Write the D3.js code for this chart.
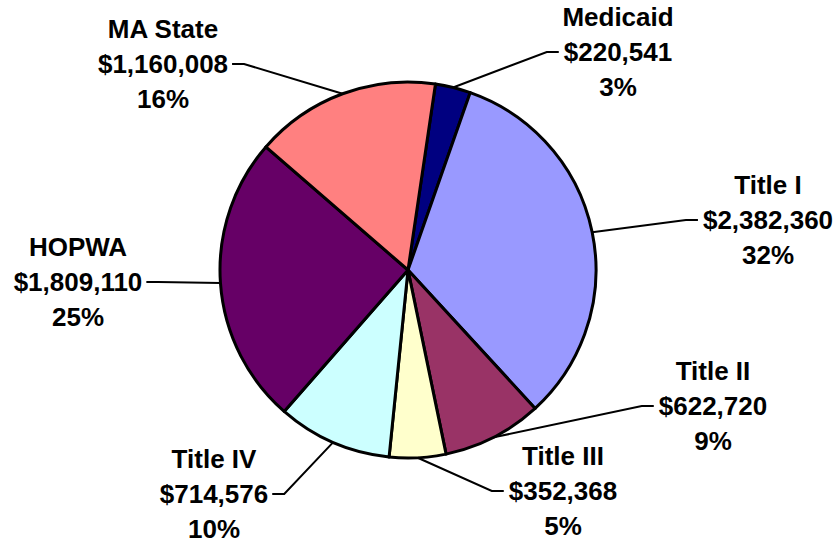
<!DOCTYPE html>
<html>
<head>
<meta charset="utf-8">
<script src="https://cdn.jsdelivr.net/npm/d3@7"></script>
<style>
  body { margin: 0; background: #fff; }
  .lbl { font-family: "Liberation Sans", Arial, sans-serif; font-weight: bold; font-size: 26px; fill: #000; }
</style>
</head>
<body>
<svg width="839" height="543"></svg>
<script>
  const categories = ['Medicaid', 'Title I', 'Title II', 'Title III', 'Title IV', 'HOPWA', 'MA State'];
  const amounts = [220541, 2382360, 622720, 352368, 714576, 1809110, 1160008];
  const percentLabels = ['3%', '32%', '9%', '5%', '10%', '25%', '16%'];
  const colors = ['#000080', '#9999FF', '#993366', '#FFFFCC', '#CCFFFF', '#660066', '#FF8080'];

  // label placement (centre of middle line) and which side the leader attaches
  const labelLayout = [
    { x: 618, y: 52, side: 'left' },
    { x: 768, y: 220, side: 'left' },
    { x: 713, y: 406, side: 'left' },
    { x: 563, y: 491, side: 'left' },
    { x: 214, y: 494, side: 'right' },
    { x: 78, y: 282, side: 'right' },
    { x: 163, y: 64, side: 'right' }
  ];

  const svg = d3.select('svg');
  const cx = 408, cy = 270, radius = 188;
  const start = 8.4 * Math.PI / 180;

  const data = categories.map((c, i) => ({ name: c, value: amounts[i], pct: percentLabels[i], color: colors[i], i }));

  const pie = d3.pie().value(d => d.value).sort(null)
    .startAngle(start).endAngle(start + 2 * Math.PI);
  const arcs = pie(data);
  const arc = d3.arc().innerRadius(0).outerRadius(radius);

  const g = svg.append('g').attr('transform', `translate(${cx},${cy})`);

  g.selectAll('path.slice').data(arcs)
    .enter().append('path')
      .attr('class', 'slice')
      .attr('d', arc)
      .attr('fill', d => d.data.color)
      .attr('stroke', '#000')
      .attr('stroke-width', 3)
      .attr('stroke-linejoin', 'round');

  const fmt = d3.format('$,');
  const lineGap = 35;

  arcs.forEach((a, i) => {
    const lay = labelLayout[i];
    const t = svg.append('text').attr('class', 'lbl').attr('text-anchor', 'middle');
    const lines = [a.data.name, fmt(a.data.value), a.data.pct];
    lines.forEach((s, k) => {
      t.append('tspan').attr('x', lay.x).attr('y', lay.y + (k - 1) * lineGap + 9).text(s);
    });
    const w = t.selectAll('tspan').nodes()[1].getComputedTextLength();

    const mid = (a.startAngle + a.endAngle) / 2;
    const ex = cx + radius * Math.sin(mid);
    const ey = cy - radius * Math.cos(mid);
    const tx = lay.side === 'left' ? lay.x - w / 2 - 5 : lay.x + w / 2 + 4;
    const elbow = lay.side === 'left' ? tx - 12 : tx + 12;

    svg.append('path')
      .attr('d', d3.line()([[tx, lay.y], [elbow, lay.y], [ex, ey]]))
      .attr('fill', 'none')
      .attr('stroke', '#000')
      .attr('stroke-width', 2);
  });
</script>
</body>
</html>
